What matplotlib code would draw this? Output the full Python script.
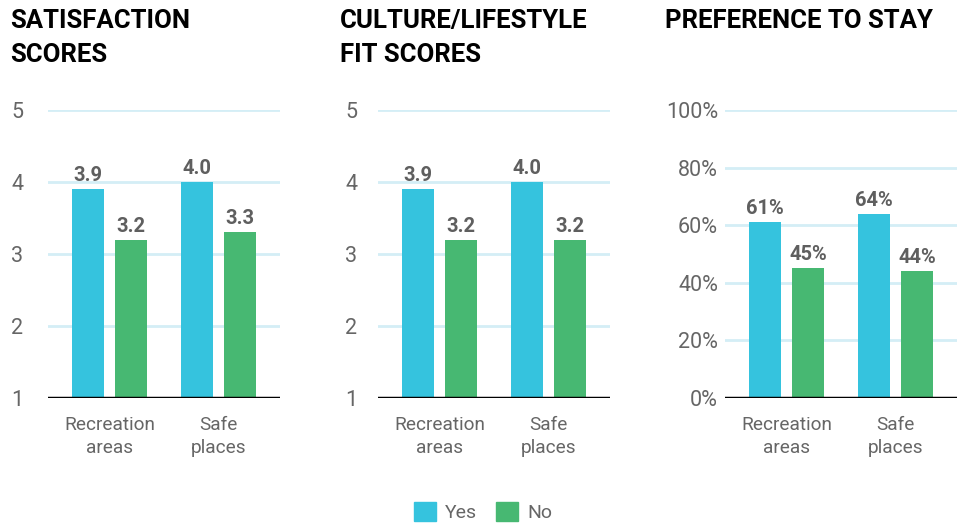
import matplotlib.pyplot as plt
import numpy as np

plt.rcParams['font.family'] = ['Roboto', 'DejaVu Sans']

# data
categories = ['Recreation\nareas', 'Safe\nplaces']
titles = ['SATISFACTION\nSCORES', 'CULTURE/LIFESTYLE\nFIT SCORES', 'PREFERENCE TO STAY']
satisfaction_yes = [3.9, 4.0]
satisfaction_no = [3.2, 3.3]
culture_yes = [3.9, 4.0]
culture_no = [3.2, 3.2]
stay_yes = [61, 64]
stay_no = [45, 44]

blue = '#35C3DE'
green = '#47B872'
grid_col = '#D4EEF6'
text_col = '#5f5f5f'

fig = plt.figure(figsize=(9.66, 5.24), dpi=100)

panels = [
    (48, satisfaction_yes, satisfaction_no, (1, 5), [1, 2, 3, 4, 5], ['1', '2', '3', '4', '5'], '{:.1f}', 18),
    (378, culture_yes, culture_no, (1, 5), [1, 2, 3, 4, 5], ['1', '2', '3', '4', '5'], '{:.1f}', 15),
    (725, stay_yes, stay_no, (0, 100), [0, 20, 40, 60, 80, 100], ['0%', '20%', '40%', '60%', '80%', '100%'], '{:.0f}%', 5),
]
title_x = [10, 340, 665]

x = np.arange(len(categories))
w = 0.294
off = 0.197

for i, (left, yes, no, ylim, ticks, ticklabels, fmt, pad) in enumerate(panels):
    ax = fig.add_axes([left / 966, 126 / 524, 232 / 966, 288 / 524])
    ax.bar(x - off, yes, w, color=blue, zorder=3)
    ax.bar(x + off, no, w, color=green, zorder=3)
    ax.set_xlim(-0.564, 1.564)
    ax.set_ylim(*ylim)
    ax.set_yticks(ticks)
    ax.set_yticklabels(ticklabels)
    for t in ticks[1:]:
        ax.axhline(t, color=grid_col, lw=2, zorder=1)
    ax.axhline(ylim[0], color='black', lw=2.5, zorder=4)
    for s in ax.spines.values():
        s.set_visible(False)
    ax.tick_params(axis='y', length=0, pad=pad, labelsize=15.5, labelcolor='#666666')
    ax.tick_params(axis='x', length=0, pad=13, labelsize=13.7, labelcolor='#666666')
    ax.set_xticks(x)
    ax.set_xticklabels(categories, linespacing=1.35)
    span = ylim[1] - ylim[0]
    for xi, v in zip(x - off, yes):
        ax.text(xi, v + span * 0.014, fmt.format(v), ha='center', va='bottom',
                fontsize=14.5, fontweight='bold', color=text_col, zorder=5)
    for xi, v in zip(x + off, no):
        ax.text(xi, v + span * 0.014, fmt.format(v), ha='center', va='bottom',
                fontsize=14.5, fontweight='bold', color=text_col, zorder=5)
    fig.text(title_x[i] / 966, 1 - 9 / 524, titles[i], ha='left', va='top',
             fontsize=18.5, fontweight='bold', color='black', linespacing=1.5)

# legend
handles = [plt.Rectangle((0, 0), 1, 1, color=blue), plt.Rectangle((0, 0), 1, 1, color=green)]
fig.legend(handles, ['Yes', 'No'], loc='lower center', bbox_to_anchor=(0.5, -0.03), ncol=2,
           frameon=False, fontsize=14, labelcolor='#666666', handlelength=1.15, handleheight=1.15,
           columnspacing=0.95, handletextpad=0.45)

fig.savefig('out.png', dpi=100)
